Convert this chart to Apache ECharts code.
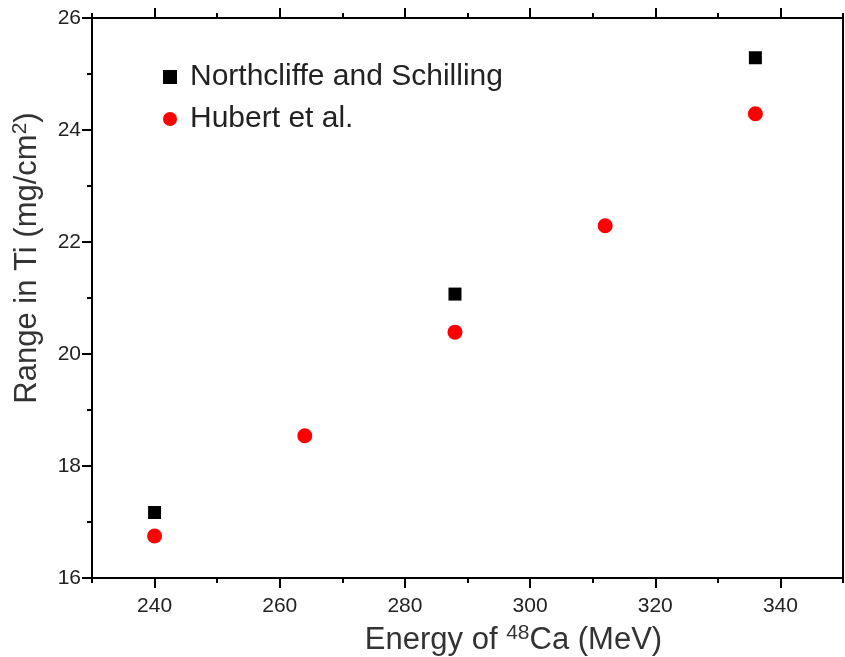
<!DOCTYPE html>
<html>
<head>
<meta charset="utf-8">
<script src="https://cdn.jsdelivr.net/npm/echarts@6/dist/echarts.min.js"></script>
<style>
    html, body { margin: 0; padding: 0; background: #fff; }
    #chart { width: 845px; height: 657px; }
</style>
</head>
<body>
<div id="chart"></div>
<script>
// Values
const northEnergy = [240, 288, 336];
const northRange = [17.17, 21.07, 25.29];
const hubertEnergy = [240, 264, 288, 312, 336];
const hubertRange = [16.75, 18.54, 20.39, 22.29, 24.29];

// Tick positions
const xMajor = [240, 260, 280, 300, 320, 340];
const xMinor = [230, 250, 270, 290, 310, 330, 350];
const yMajor = [16, 18, 20, 22, 24, 26];
const yMinor = [17, 19, 21, 23, 25];

const FONT = '"Liberation Sans", Arial, sans-serif';

function pairs(xs, ys) {
    return xs.map((x, i) => [x, ys[i]]);
}

// Builds an axis that only draws ticks (and maybe labels) at given values
function tickAxis(kind, pos, ticks, len, labels) {
    const ax = {
        type: 'value',
        position: pos,
        min: kind === 'x' ? 230 : 16,
        max: kind === 'x' ? 350 : 26,
        splitLine: { show: false },
        axisLine: { show: false, onZero: false },
        axisTick: {
            show: true,
            customValues: ticks,
            length: len,
            lineStyle: { color: '#000', width: 2 }
        },
        axisLabel: { show: false }
    };
    if (labels) {
        ax.axisLabel = {
            show: true,
            customValues: labels,
            color: '#222',
            fontFamily: FONT,
            fontSize: 21,
            margin: kind === 'x' ? 18 : 11
        };
    }
    return ax;
}

const chart = echarts.init(document.getElementById('chart'));

const supStyle = { fontSize: 21, verticalAlign: 'top', padding: [0, 0, 13, 0], color: '#333', fontFamily: FONT };

const xMain = tickAxis('x', 'bottom', xMajor, 10, xMajor);
xMain.name = 'Energy of {sup|48}Ca (MeV)';
xMain.nameLocation = 'middle';
xMain.nameGap = 45;
xMain.nameTextStyle = {
    color: '#333', fontFamily: FONT, fontSize: 31,
    padding: [0, 0, 0, 92],
    rich: { sup: supStyle }
};

const yMain = tickAxis('y', 'left', yMajor, 10, yMajor);
yMain.name = 'Range in Ti (mg/cm{sup|2})';
yMain.nameLocation = 'middle';
yMain.nameGap = 48;
yMain.nameTextStyle = {
    color: '#333', fontFamily: FONT, fontSize: 31,
    padding: [0, 0, 0, 80],
    rich: { sup: supStyle }
};

chart.setOption({
    animation: false,
    backgroundColor: '#fff',
    grid: {
        left: 92, right: 2, top: 18, bottom: 79,
        outerBoundsMode: 'none',
        show: true, borderColor: '#000', borderWidth: 2, backgroundColor: 'transparent'
    },
    legend: {
        orient: 'vertical',
        left: 158, top: 57,
        itemWidth: 14, itemHeight: 14,
        itemGap: 12,
        textStyle: { color: '#222', fontFamily: FONT, fontSize: 30, padding: [0, 0, 0, 8] },
        data: ['Northcliffe and Schilling', 'Hubert et al.']
    },
    xAxis: [
        xMain,
        tickAxis('x', 'bottom', xMinor, 5),
        tickAxis('x', 'top', xMajor, 10),
        tickAxis('x', 'top', xMinor, 5)
    ],
    yAxis: [
        yMain,
        tickAxis('y', 'left', yMinor, 5)
    ],
    series: [
        {
            name: 'Northcliffe and Schilling',
            type: 'scatter',
            symbol: 'rect',
            symbolSize: 13,
            itemStyle: { color: '#000', opacity: 1 },
            data: pairs(northEnergy, northRange)
        },
        {
            name: 'Hubert et al.',
            type: 'scatter',
            symbol: 'circle',
            symbolSize: 15,
            itemStyle: { color: '#f00', opacity: 1 },
            data: pairs(hubertEnergy, hubertRange)
        }
    ]
});

window.addEventListener('resize', function() {
    chart.resize();
});
</script>
</body>
</html>
